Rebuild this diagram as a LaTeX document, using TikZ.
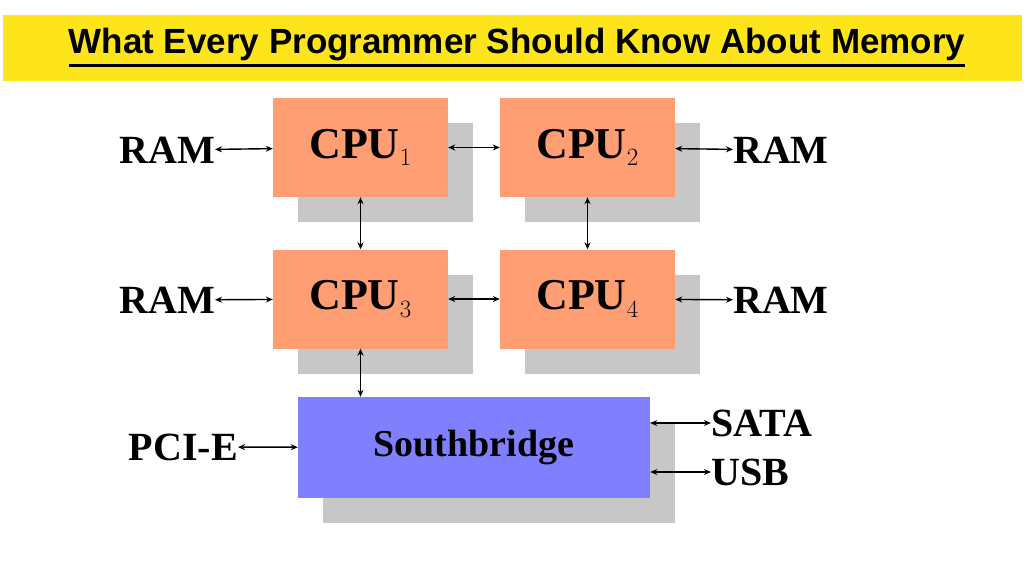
\documentclass[tikz,border=0pt]{standalone}
\usepackage{fontspec}
\setmainfont{Liberation Serif}
\newfontfamily\titlefont{Liberation Sans}
\usetikzlibrary{arrows.meta}

\tikzset{
  chip/.style={fill=#1, minimum width=175pt, minimum height=99pt, inner sep=0pt,
    font=\bfseries\fontsize{44}{48}\selectfont},
  shade/.style={fill=black!22},
  io/.style={font=\bfseries\fontsize{40}{44}\selectfont, inner sep=0pt},
  link/.style={{Stealth[length=7pt,width=6pt]}-{Stealth[length=7pt,width=6pt]}, line width=1.4pt}
}

\begin{document}
\begin{tikzpicture}[x=1pt, y=-1pt]
\useasboundingbox (0,0) rectangle (1024,576);

% --- title ---
\fill[yellow!85!orange!90!white] (3,15) rectangle (1022,81);
\node[inner sep=0pt] (title) at (517,45) {\titlefont\bfseries\fontsize{35}{40}\selectfont What Every Programmer Should Know About Memory};
\draw[line width=2.5pt] ([yshift=-4pt]title.south west) -- ([yshift=-4pt]title.south east);

% --- shadows ---
\foreach \x/\y in {273/98, 500/98, 273/250, 500/250}
  \fill[shade] (\x+25,\y+25) rectangle (\x+200,\y+124);
\fill[shade] (323,422) rectangle (675,523);

% --- processors ---
\node[chip={orange!60!red!55!white}] (cpu1) at (360.5,147.5) {CPU$_1$};
\node[chip={orange!60!red!55!white}] (cpu2) at (587.5,147.5) {CPU$_2$};
\node[chip={orange!60!red!55!white}] (cpu3) at (360.5,299) {CPU$_3$};
\node[chip={orange!60!red!55!white}] (cpu4) at (587.5,299) {CPU$_4$};
\node[chip={blue!50!white}, minimum width=352pt, minimum height=101pt,
  font=\bfseries\fontsize{38}{42}\selectfont] (sb) at (474,447.5) {Southbridge};

% --- outside world ---
\node[io, anchor=east] (ram1) at (215,150) {RAM};
\node[io, anchor=west] (ram2) at (733,150) {RAM};
\node[io, anchor=east] (ram3) at (215,300) {RAM};
\node[io, anchor=west] (ram4) at (733,300) {RAM};
\node[io, anchor=east] (pcie) at (238,447) {PCI-E};
\node[io, anchor=west] (sata) at (711,423) {SATA};
\node[io, anchor=west] (usb)  at (711,472) {USB};

% --- links ---
\draw[link] (ram1) -- (cpu1);
\draw[link] (cpu2) -- (ram2);
\draw[link] (ram3) -- (cpu3);
\draw[link] (cpu4) -- (ram4);
\draw[link] (cpu1) -- (cpu2);
\draw[link] (cpu3) -- (cpu4);
\draw[link] (cpu1) -- (cpu3);
\draw[link] (cpu2) -- (cpu4);
\draw[link] (cpu3) -- (cpu3 |- sb.north);
\draw[link] (pcie) -- (sb);
\draw[link] (sb.east |- sata) -- (sata);
\draw[link] (sb.east |- usb) -- (usb);
\end{tikzpicture}
\end{document}
